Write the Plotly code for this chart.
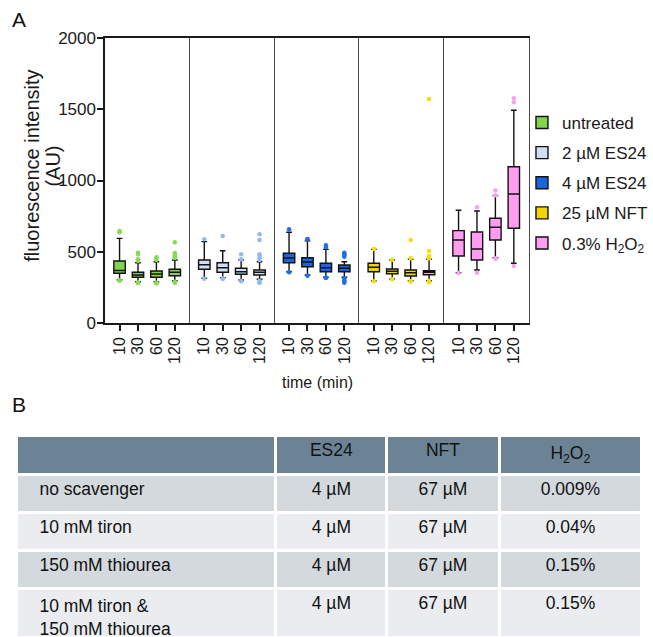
import plotly.graph_objects as go

# ---------------- data ----------------
times = ["10", "30", "60", "120"]
treatments = ["untreated", "2 µM ES24", "4 µM ES24", "25 µM NFT",
              "0.3% H<sub>2</sub>O<sub>2</sub>"]

q1_untreated = [349, 321, 321, 332]
med_untreated = [368, 337, 344, 356]
q3_untreated = [435, 356, 365, 377]
lo_untreated = [302, 290, 290, 297]
hi_untreated = [594, 423, 430, 442]
out_untreated = [[646, 637, 296, 300],
                 [493, 482, 447, 435, 285, 282, 280],
                 [461, 452, 442, 283, 279, 281],
                 [566, 491, 480, 470, 462, 456, 290, 285, 283]]

q1_es2 = [377, 356, 342, 337]
med_es2 = [409, 388, 360, 356]
q3_es2 = [442, 423, 384, 372]
lo_es2 = [314, 318, 302, 307]
hi_es2 = [571, 507, 442, 430]
out_es2 = [[587, 310],
           [611, 310, 312],
           [482, 447, 293, 295],
           [622, 582, 482, 470, 455, 442, 297, 290, 285, 283]]

q1_es4 = [423, 395, 360, 360]
med_es4 = [456, 428, 388, 384]
q3_es4 = [489, 458, 419, 407]
lo_es4 = [360, 337, 321, 321]
hi_es4 = [637, 576, 517, 430]
out_es4 = [[658, 356],
           [587, 590, 332],
           [545, 531, 318, 318],
           [493, 485, 475, 465, 314, 300, 290, 283]]

q1_nft = [360, 346, 330, 339]
med_nft = [391, 363, 353, 356]
q3_nft = [419, 379, 372, 367]
lo_nft = [295, 309, 297, 297]
hi_nft = [517, 442, 447, 449]
out_nft = [[520, 293],
           [444, 307],
           [582, 454, 293, 292],
           [1572, 505, 470, 454, 295, 290, 286]]

q1_h2o2 = [470, 442, 582, 665]
med_h2o2 = [582, 519, 672, 905]
q3_h2o2 = [648, 639, 735, 1097]
lo_h2o2 = [353, 372, 458, 419]
hi_h2o2 = [791, 786, 894, 1493]
out_h2o2 = [[351],
            [812, 353],
            [929, 896, 451, 452],
            [1577, 1549, 400]]

y_ticks = [0, 500, 1000, 1500, 2000]
y_title_lines = ["fluorescence intensity", "(AU)"]
x_title = "time (min)"

# table data
table_header = ["", "ES24", "NFT", "H<sub>2</sub>O<sub>2</sub>"]
table_conditions = [["no scavenger"], ["10 mM tiron"], ["150 mM thiourea"],
                    ["10 mM tiron &", "150 mM thiourea"]]
table_es24 = ["4 µM", "4 µM", "4 µM", "4 µM"]
table_nft = ["67 µM", "67 µM", "67 µM", "67 µM"]
table_h2o2 = ["0.009%", "0.04%", "0.15%", "0.15%"]

# ---------------- styles ----------------
fill_colors = ["#82d54b", "#cfe0f4", "#1766dc", "#f3d400", "#fd9cf1"]
point_colors = ["#86db50", "#90bbf0", "#1f70e6", "#f5dc10", "#f7a3ef"]
FONT = "Liberation Sans, Arial, sans-serif"

groups = [
    (q1_untreated, med_untreated, q3_untreated, lo_untreated, hi_untreated, out_untreated),
    (q1_es2, med_es2, q3_es2, lo_es2, hi_es2, out_es2),
    (q1_es4, med_es4, q3_es4, lo_es4, hi_es4, out_es4),
    (q1_nft, med_nft, q3_nft, lo_nft, hi_nft, out_nft),
    (q1_h2o2, med_h2o2, q3_h2o2, lo_h2o2, hi_h2o2, out_h2o2),
]

W, H = 653, 637
px_left, px_right, px_top, px_bottom = 106, 533, 38, 323
x0 = px_left / W
x1 = px_right / W
pw = (x1 - x0) / 5
ydom = [1 - px_bottom / H, 1 - px_top / H]

fig = go.Figure()
layout = {}

for g, (q1, med, q3, lo, hi, outs) in enumerate(groups):
    sfx = "" if g == 0 else str(g + 1)
    xa, ya = "x" + sfx, "y" + sfx
    fig.add_trace(go.Box(
        x=times, q1=q1, median=med, q3=q3, lowerfence=lo, upperfence=hi,
        name=treatments[g], legendgroup=treatments[g], showlegend=True,
        fillcolor=fill_colors[g], line=dict(color="#111111", width=1.4),
        width=0.62, whiskerwidth=0.5, boxpoints=False,
        xaxis=xa, yaxis=ya, hoverinfo="skip",
    ))
    ox, oy = [], []
    for t, vals in zip(times, outs):
        for v in vals:
            ox.append(t)
            oy.append(v)
    fig.add_trace(go.Scatter(
        x=ox, y=oy, mode="markers",
        marker=dict(color=point_colors[g], size=4.5, line=dict(width=0)),
        showlegend=False, legendgroup=treatments[g], xaxis=xa, yaxis=ya,
        hoverinfo="skip",
    ))
    layout["xaxis" + sfx] = dict(
        domain=[x0 + g * pw, x0 + (g + 1) * pw], anchor=ya,
        type="category", categoryorder="array", categoryarray=times,
        tickmode="array", tickvals=times, ticktext=times,
        range=[-0.78, 3.82], showline=True, mirror=True,
        linecolor="#1a1a1a", linewidth=1.6, ticks="outside", ticklen=6,
        tickwidth=1.5, tickcolor="#1a1a1a", tickangle=-90,
        tickfont=dict(size=16, color="#1a1a1a", family=FONT),
        showgrid=False, zeroline=False, automargin=False, fixedrange=True,
    )
    ydict = dict(
        domain=ydom, anchor=xa, range=[0, 2000], showline=True,
        showgrid=False, zeroline=False, automargin=False, fixedrange=True,
    )
    if g == 0:
        ydict.update(tickmode="array", tickvals=y_ticks, ticks="outside",
                     ticklen=6, tickwidth=1.5, ticklabelstandoff=-2,
                     tickcolor="#1a1a1a", linecolor="#1a1a1a", linewidth=1.6,
                     tickfont=dict(size=17, color="#1a1a1a", family=FONT))
    else:
        ydict.update(matches="y", showticklabels=False, ticks="",
                     linecolor="#4a4a4a", linewidth=1.3)
    if g == 4:
        ydict.update(mirror=True)
    layout["yaxis" + sfx] = ydict

# ---------------- table ----------------
row_fills = ["#d4d9de", "#eaecef", "#d4d9de", "#eaecef"]
pad = "\u00a0\u00a0\u00a0"
cond_text = ["<br>".join(pad + line for line in lines) for lines in table_conditions]
fig.add_trace(go.Table(
    domain=dict(x=[17 / W, 647 / W], y=[0, 1 - 435 / H]),
    columnwidth=[261, 112, 113, 144],
    header=dict(
        values=table_header, fill_color="#6c8396",
        line=dict(color="white", width=3), height=39,
        align="center", font=dict(size=17.5, color="#111111", family=FONT),
    ),
    cells=dict(
        values=[cond_text, table_es24, table_nft, table_h2o2],
        fill_color=[row_fills] * 4,
        line=dict(color="white", width=3), height=38,
        align=["left", "center", "center", "center"],
        font=dict(size=17.5, color="#111111", family=FONT),
    ),
))

annotations = [
    dict(text="A", x=10 / W, y=1 - 20 / H, xref="paper", yref="paper",
         xanchor="left", yanchor="middle", showarrow=False,
         font=dict(size=21, color="#111111", family=FONT)),
    dict(text="B", x=10 / W, y=1 - 405 / H, xref="paper", yref="paper",
         xanchor="left", yanchor="middle", showarrow=False,
         font=dict(size=21, color="#111111", family=FONT)),
    dict(text=y_title_lines[0], x=32 / W, y=1 - 166 / H,
         xref="paper", yref="paper", xanchor="center", yanchor="middle",
         textangle=-90, showarrow=False,
         font=dict(size=20, color="#1a1a1a", family=FONT)),
    dict(text=y_title_lines[1], x=53 / W, y=1 - 166 / H,
         xref="paper", yref="paper", xanchor="center", yanchor="middle",
         textangle=-90, showarrow=False,
         font=dict(size=20, color="#1a1a1a", family=FONT)),
    dict(text=x_title, x=320 / W, y=1 - 382 / H, xref="paper", yref="paper",
         xanchor="center", yanchor="middle", showarrow=False,
         font=dict(size=16, color="#1a1a1a", family=FONT)),
]

fig.update_layout(
    width=W, height=H,
    margin=dict(l=0, r=0, t=0, b=0),
    paper_bgcolor="white", plot_bgcolor="white",
    font=dict(family=FONT, color="#1a1a1a"),
    annotations=annotations,
    legend=dict(x=526 / W, y=1 - 105 / H, xanchor="left", yanchor="top",
                traceorder="grouped", tracegroupgap=5,
                font=dict(size=17, color="#1a1a1a", family=FONT),
                bgcolor="rgba(0,0,0,0)"),
    boxmode="overlay",
    **layout,
)

fig.write_html("out.html", config={"displayModeBar": False},
               post_script="document.body.style.margin='0';document.body.style.padding='0';")
